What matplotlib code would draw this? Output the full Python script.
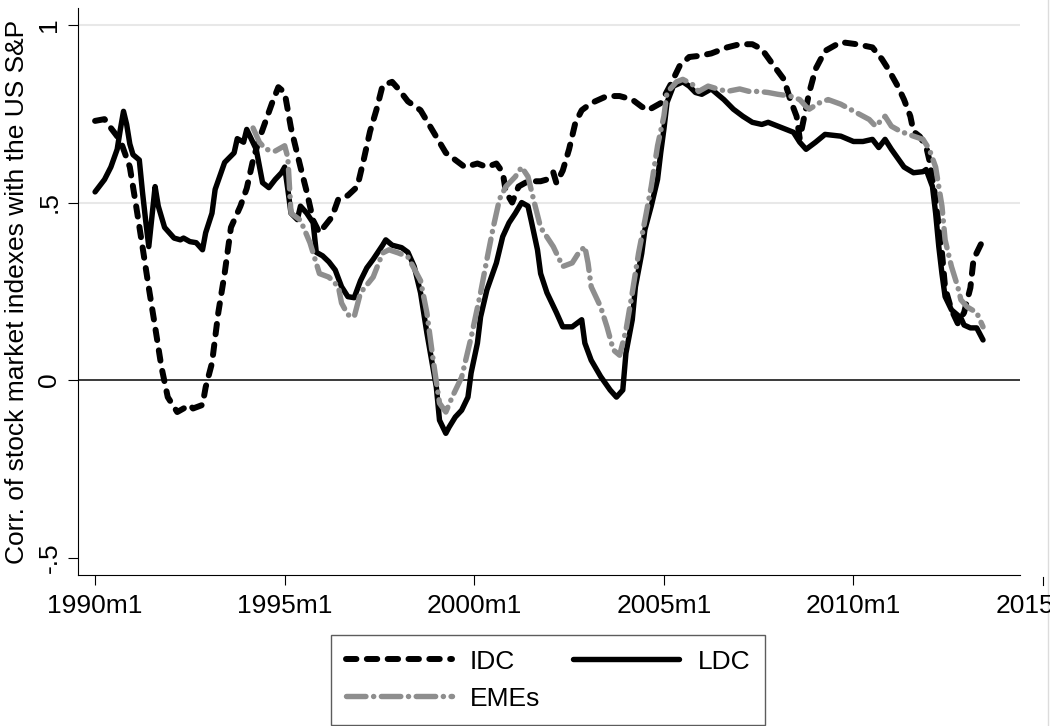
import matplotlib
matplotlib.use("Agg")
import matplotlib.pyplot as plt
from matplotlib.lines import Line2D

plt.rcParams['font.family'] = ['Liberation Sans', 'DejaVu Sans']
plt.rcParams['lines.scale_dashes'] = False

# Months since 1990m1 and rolling correlations with the US S&P
idc_month = [0, 3, 5, 8, 11, 13, 15, 17, 19, 21, 23, 26, 28, 30, 31, 34, 35, 37, 39, 41,
             43, 46, 48, 50, 52, 54, 56, 58, 60, 62, 65, 67, 69, 71, 75, 77, 80, 83, 85, 87,
             89, 91, 94, 96, 99, 103, 106, 109, 111, 114, 117, 121, 124, 127, 129, 130, 132,
             134, 137, 141, 143, 145, 146, 148, 150, 152, 154, 157, 162, 166, 170, 173, 175,
             179, 182, 185, 188, 191, 195, 200, 204, 208, 211, 214, 218, 220, 222, 223, 226,
             228, 231, 236, 241, 246, 249, 251, 254, 256, 258, 259, 261, 263, 264, 266, 267,
             268, 269, 271, 273, 275, 277, 278, 281]
idc_corr = [0.73, 0.735, 0.71, 0.675, 0.60, 0.49, 0.376, 0.26, 0.15, 0.037, -0.048, -0.09,
            -0.08, -0.07, -0.08, -0.07, -0.02, 0.048, 0.19, 0.30, 0.43, 0.49, 0.54, 0.62,
            0.68, 0.73, 0.78, 0.825, 0.81, 0.71, 0.60, 0.53, 0.45, 0.415, 0.46, 0.51, 0.52,
            0.545, 0.62, 0.70, 0.76, 0.83, 0.84, 0.82, 0.785, 0.76, 0.715, 0.67, 0.64, 0.62,
            0.60, 0.61, 0.60, 0.61, 0.585, 0.53, 0.50, 0.545, 0.56, 0.56, 0.565, 0.585, 0.555,
            0.59, 0.65, 0.725, 0.76, 0.78, 0.80, 0.80, 0.79, 0.77, 0.76, 0.78, 0.83, 0.885,
            0.91, 0.913, 0.92, 0.937, 0.946, 0.946, 0.932, 0.895, 0.847, 0.79, 0.743, 0.68,
            0.81, 0.876, 0.927, 0.952, 0.946, 0.937, 0.904, 0.876, 0.828, 0.79, 0.743, 0.70,
            0.686, 0.658, 0.62, 0.51, 0.43, 0.36, 0.26, 0.198, 0.16, 0.19, 0.26, 0.34, 0.395]

ldc_month = [0, 3, 5, 7, 8, 9, 10, 11, 12, 14, 15, 16, 17, 19, 20, 22, 25, 27, 28, 30, 32,
             34, 35, 37, 38, 41, 44, 45, 47, 48, 51, 53, 55, 57, 59, 60, 61, 62, 64, 65, 67,
             69, 70, 72, 74, 76, 78, 80, 82, 84, 86, 88, 91, 92, 94, 97, 99, 101, 103, 105,
             108, 109, 111, 112, 114, 116, 118, 119, 121, 122, 124, 127, 129, 131, 133, 135,
             137, 138, 140, 141, 143, 146, 148, 151, 154, 155, 157, 160, 163, 165, 167, 168,
             170, 171, 173, 174, 176, 178, 179, 180, 181, 183, 186, 188, 190, 192, 195, 199,
             202, 205, 208, 211, 213, 217, 221, 223, 225, 228, 231, 236, 240, 243, 246, 248,
             250, 252, 256, 259, 262, 263, 265, 266, 267, 268, 269, 271, 274, 275, 277, 279,
             281]
ldc_corr = [0.53, 0.565, 0.60, 0.65, 0.706, 0.757, 0.72, 0.665, 0.635, 0.62, 0.53, 0.45,
            0.376, 0.545, 0.49, 0.43, 0.40, 0.395, 0.40, 0.39, 0.387, 0.367, 0.415, 0.47,
            0.537, 0.613, 0.64, 0.68, 0.67, 0.706, 0.65, 0.556, 0.542, 0.565, 0.584, 0.60,
            0.537, 0.47, 0.452, 0.49, 0.47, 0.443, 0.36, 0.35, 0.333, 0.31, 0.263, 0.235,
            0.232, 0.28, 0.316, 0.34, 0.38, 0.395, 0.38, 0.373, 0.36, 0.32, 0.246, 0.133,
            -0.02, -0.113, -0.15, -0.133, -0.104, -0.085, -0.048, 0.02, 0.104, 0.178, 0.254,
            0.33, 0.404, 0.443, 0.47, 0.50, 0.49, 0.45, 0.367, 0.30, 0.246, 0.19, 0.15, 0.15,
            0.17, 0.104, 0.056, 0.01, -0.028, -0.048, -0.028, 0.076, 0.17, 0.263, 0.357,
            0.424, 0.49, 0.565, 0.64, 0.706, 0.782, 0.828, 0.84, 0.828, 0.81, 0.805, 0.82,
            0.79, 0.763, 0.743, 0.726, 0.72, 0.726, 0.712, 0.698, 0.67, 0.65, 0.67, 0.692,
            0.687, 0.672, 0.672, 0.678, 0.655, 0.678, 0.65, 0.60, 0.584, 0.587, 0.593, 0.545,
            0.47, 0.376, 0.30, 0.235, 0.198, 0.175, 0.155, 0.147, 0.147, 0.113]

eme_month = [50, 52, 54, 57, 60, 61, 62, 65, 68, 71, 74, 77, 78, 80, 82, 84, 88, 91, 93, 96,
             99, 103, 105, 107, 109, 111, 113, 116, 119, 122, 124, 126, 128, 130, 133, 135,
             137, 139, 141, 145, 148, 151, 153, 155, 156, 157, 160, 162, 164, 166, 168, 170,
             172, 174, 176, 178, 180, 181, 184, 186, 189, 191, 194, 197, 200, 204, 207, 210,
             213, 216, 220, 223, 225, 226, 229, 232, 236, 241, 245, 247, 250, 252, 255, 259,
             262, 264, 266, 268, 269, 271, 273, 274, 276, 279, 281]
eme_corr = [0.71, 0.67, 0.65, 0.645, 0.66, 0.627, 0.47, 0.45, 0.387, 0.30, 0.29, 0.263,
            0.217, 0.184, 0.178, 0.246, 0.29, 0.358, 0.367, 0.358, 0.347, 0.28, 0.19, 0.056,
            -0.065, -0.09, -0.048, 0.008, 0.12, 0.246, 0.34, 0.43, 0.51, 0.545, 0.573, 0.60,
            0.573, 0.50, 0.43, 0.376, 0.32, 0.33, 0.358, 0.376, 0.33, 0.263, 0.206, 0.15,
            0.085, 0.07, 0.14, 0.246, 0.358, 0.45, 0.545, 0.66, 0.743, 0.81, 0.84, 0.847,
            0.833, 0.813, 0.828, 0.82, 0.813, 0.82, 0.813, 0.813, 0.81, 0.805, 0.80, 0.79,
            0.77, 0.763, 0.78, 0.79, 0.777, 0.753, 0.734, 0.715, 0.743, 0.715, 0.70, 0.687,
            0.678, 0.65, 0.60, 0.49, 0.395, 0.32, 0.263, 0.226, 0.206, 0.19, 0.15]

x_ticks = [0, 60, 120, 180, 240]
x_labels = ['1990m1', '1995m1', '2000m1', '2005m1', '2010m1']
x_extra_tick, x_extra_label = 300, '2015m1'
y_ticks = [-0.5, 0, 0.5, 1]
y_labels = ['-.5', '0', '.5', '1']

W, H = 1050, 726
fig = plt.figure(figsize=(W / 100, H / 100), dpi=100)
ax = fig.add_axes([78 / W, 1 - 575 / H, (1020 - 78) / W, (575 - 8) / H])

fs = 19
gray = '#8e8e8e'

for yv in (0.5, 1.0):
    ax.axhline(yv, color='#e8e8e8', lw=1.5, zorder=0.5)
ax.axhline(0, color='#3a3a3a', lw=1.4, zorder=1)

h_idc, = ax.plot(idc_month, idc_corr, color='black', lw=4.3,
                 linestyle=(0, (7.5, 7.5)), dash_capstyle='round', dash_joinstyle='round',
                 zorder=3)
h_ldc, = ax.plot(ldc_month, ldc_corr, color='black', lw=3.9,
                 solid_capstyle='round', solid_joinstyle='round', zorder=3)
h_eme, = ax.plot(eme_month, eme_corr, color=gray, lw=3.9,
                 linestyle=(0, (14, 5.5, 0.1, 5.5)), dash_capstyle='round',
                 dash_joinstyle='round', zorder=4)

ax.set_xlim(-5.4, 292.7)
ax.set_ylim(-0.549, 1.048)

for side in ('top', 'right'):
    ax.spines[side].set_visible(False)
for side in ('left', 'bottom'):
    ax.spines[side].set_linewidth(0.8)
    ax.spines[side].set_color('black')

ax.set_xticks(x_ticks)
ax.set_xticklabels(x_labels)
ax.set_yticks(y_ticks)
ax.set_yticklabels(y_labels)
tick_len = 7.4
xpad = 6.5
ax.tick_params(axis='x', length=tick_len, width=0.8, labelsize=fs, pad=xpad)
ax.tick_params(axis='y', length=tick_len, width=0.8, labelsize=fs, pad=4.5,
               labelrotation=90)
for lab in ax.get_yticklabels():
    lab.set_va('center')

# The 2015m1 tick lies beyond the x range, so it is drawn by hand
x_px = ax.transData.transform((x_extra_tick, 0))[0]
y_px = ax.transAxes.transform((0, 0))[1]
fig.add_artist(Line2D([x_px / W, x_px / W],
                      [(y_px - 2) / H, (y_px - tick_len * 100 / 72) / H],
                      transform=fig.transFigure, color='black', lw=0.8))
fig.text(x_px / W, (y_px - (tick_len + xpad) * 100 / 72) / H, x_extra_label,
         ha='center', va='top', fontsize=fs)

ax.set_ylabel('Corr. of stock market indexes with the US S&P', fontsize=fs, labelpad=6)

leg = fig.legend([h_idc, h_eme, h_ldc], ['IDC', 'EMEs', 'LDC'], ncol=2,
                 loc='upper center', bbox_to_anchor=(548 / W, 1 - 635 / H),
                 frameon=True, fancybox=False, edgecolor='#333333', fontsize=fs,
                 handlelength=4.0, handletextpad=0.7, columnspacing=1.25,
                 labelspacing=0.5, borderpad=0.55, borderaxespad=0)
leg.get_frame().set_linewidth(1.0)

fig.add_artist(Line2D([1047.5 / W, 1047.5 / W], [0, 1], transform=fig.transFigure,
                      color='#dcdcdc', lw=1.0))

fig.savefig('out.png', dpi=100)
